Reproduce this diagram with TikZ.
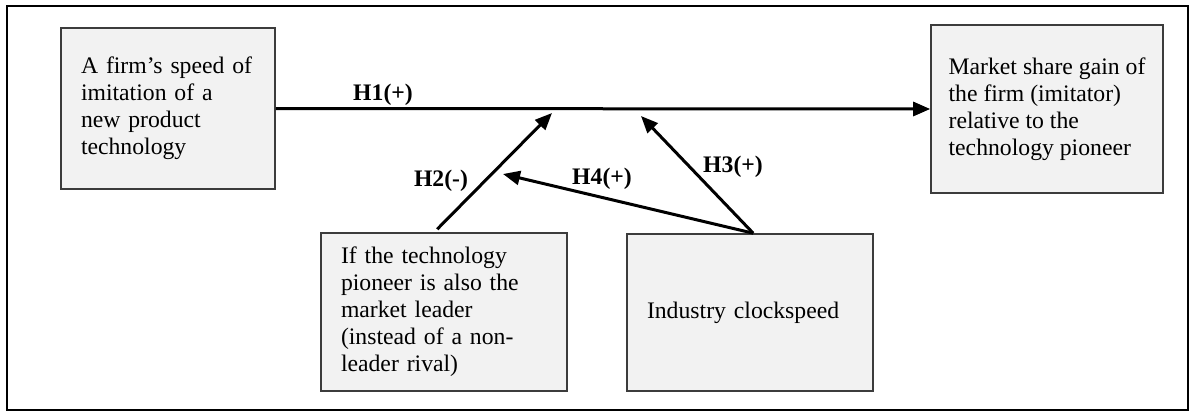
\documentclass[tikz,border=0pt]{standalone}
\usepackage{fontspec}
\setmainfont{Liberation Serif}
\usetikzlibrary{arrows.meta,calc}
\definecolor{boxfill}{HTML}{F2F2F2}
\definecolor{boxline}{HTML}{3C3C3C}
\begin{document}
\begin{tikzpicture}[x=1pt,y=-1pt,
  box/.style={draw=boxline, line width=1.6pt, fill=boxfill, inner xsep=20pt, inner ysep=0pt,
    align=left, font=\fontsize{23.7}{27}\selectfont, text=black},
  conn/.style={line width=3pt, -{Triangle[length=17pt,width=14pt]}},
  lab/.style={font=\fontsize{23.7}{27}\selectfont\bfseries, inner sep=0pt}]
\useasboundingbox (0,0) rectangle (1189,412);
\draw[line width=2pt] (7,6) rectangle (1188,410);
\node[box, text width=174pt, minimum height=161pt] (src) at (168,108.5)
  {A firm’s speed of\\imitation of a\\new product\\technology};
\node[box, inner xsep=4pt, minimum width=232pt, minimum height=168pt] (dst) at (1047,109)
  {Market share gain of\\the firm (imitator)\\relative to the\\technology pioneer};
\node[box, text width=206pt, minimum height=158pt] (lead) at (444,312)
  {If the technology\\pioneer is also the\\market leader\\(instead of a non-\\leader rival)};
\node[box, text width=206pt, minimum height=157pt] (clock) at (750,312.5)
  {Industry clockspeed};
\coordinate (h2s) at ($(lead.north west)+(117,-3)$);
\coordinate (h3s) at ($(clock.north west)+(127,0)$);
\coordinate (h2t) at (552,113);
\coordinate (h3t) at (641,116);
\coordinate (h4t) at (503,174);
\draw[conn] (src.east) -- (dst.west);
\draw[conn] (h2s) -- (h2t);
\draw[conn] (h3s) -- (h3t);
\draw[conn] (h3s) -- (h4t);
\node[lab] (l1) at (383,95) {H1(+)};
\node[lab] (l2) at (441,181) {H2(-)};
\node[lab] (l4) at (602,179) {H4(+)};
\node[lab] (l3) at (733,167) {H3(+)};
\end{tikzpicture}
\end{document}
